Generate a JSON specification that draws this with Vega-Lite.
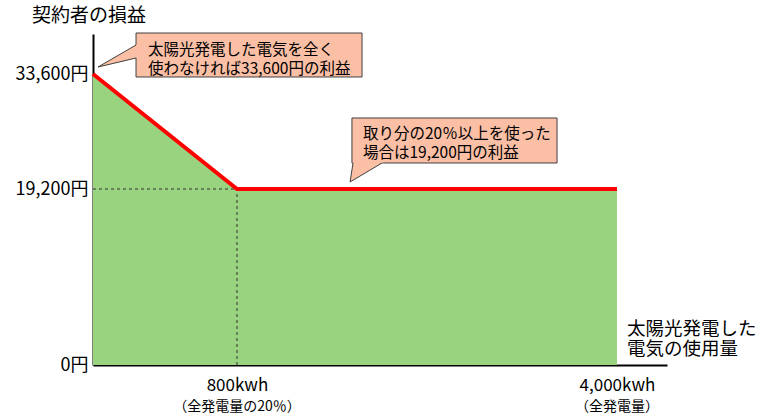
{
  "$schema": "https://vega.github.io/schema/vega-lite/v6.json",
  "width": 574,
  "height": 331,
  "autosize": "none",
  "padding": {"left": 93, "top": 34, "right": 100, "bottom": 52},
  "background": "white",
  "config": {"view": {"stroke": null}, "font": "Noto Sans CJK JP"},
  "title": {"text": "契約者の損益", "anchor": "start", "frame": "group", "dx": -61, "offset": 7, "fontSize": 19, "font": "Noto Sans CJK JP", "fontWeight": "normal", "color": "black"},
  "layer": [
    {
      "data": {"values": [{"kwh": 0, "yen": 33600}, {"kwh": 800, "yen": 19200}, {"kwh": 4000, "yen": 19200}]},
      "mark": {"type": "area", "color": "#9AD37F", "opacity": 1},
      "encoding": {
        "x": {"field": "kwh", "type": "quantitative", "title": null,
          "scale": {"domain": [0, 800, 4000, 5000], "range": [0, 144, 524, 574], "nice": false, "zero": false},
          "axis": {"values": [800, 4000], "labelExpr": "datum.value == 800 ? '800kwh' : '4,000kwh'", "grid": false, "ticks": false, "tickSize": 0, "domainColor": "black", "domainWidth": 2, "labelFontSize": 17, "labelColor": "black", "labelFont": "Noto Sans CJK JP", "labelPadding": 12, "labelFlush": false, "labelOverlap": false}},
        "y": {"field": "yen", "type": "quantitative", "title": null,
          "scale": {"domain": [0, 19200, 33600, 40000], "range": [331, 155, 40, 0], "nice": false, "zero": false},
          "axis": {"values": [0, 19200, 33600], "labelExpr": "datum.value == 0 ? '0円' : format(datum.value, ',') + '円'", "grid": false, "ticks": false, "tickSize": 0, "domainColor": "black", "domainWidth": 2, "labelFontSize": 18, "labelColor": "black", "labelFont": "Noto Sans CJK JP", "labelPadding": 5, "labelFlush": false, "labelOverlap": false}}
      }
    },
    {
      "data": {"values": [{"x1": 0, "x2": 800, "y1": 19200, "y2": 19200}, {"x1": 800, "x2": 800, "y1": 0, "y2": 19200}]},
      "mark": {"type": "rule", "color": "#333333", "strokeWidth": 1, "strokeDash": [3, 3]},
      "encoding": {
        "x": {"field": "x1", "type": "quantitative", "title": null},
        "x2": {"field": "x2"},
        "y": {"field": "y1", "type": "quantitative", "title": null},
        "y2": {"field": "y2"}
      }
    },
    {
      "data": {"values": [{"kwh": 0, "yen": 33600}, {"kwh": 800, "yen": 19200}, {"kwh": 4000, "yen": 19200}]},
      "mark": {"type": "line", "color": "#FF0000", "strokeWidth": 4},
      "encoding": {
        "x": {"field": "kwh", "type": "quantitative", "title": null},
        "y": {"field": "yen", "type": "quantitative", "title": null}
      }
    },
    {
      "data": {"values": [{"x1": 239, "x2": 1853, "y1": 40160, "y2": 33225}, {"x1": 1768, "x2": 3495, "y1": 28091, "y2": 22456}]},
      "mark": {"type": "rect", "fill": "#FABFA5", "stroke": "#404040", "strokeWidth": 1},
      "encoding": {
        "x": {"field": "x1", "type": "quantitative", "title": null},
        "x2": {"field": "x2"},
        "y": {"field": "y1", "type": "quantitative", "title": null},
        "y2": {"field": "y2"}
      }
    },
    {
      "data": {"values": [{"x": 28, "y": 34720, "y2": 34720}, {"x": 250, "y": 38426, "y2": 36235}]},
      "mark": {"type": "area", "fill": "#FABFA5", "opacity": 1},
      "encoding": {
        "x": {"field": "x", "type": "quantitative", "title": null},
        "y": {"field": "y", "type": "quantitative", "title": null},
        "y2": {"field": "y2"}
      }
    },
    {
      "data": {"values": [{"y": 20077, "x": 1752, "x2": 1752}, {"y": 22706, "x": 1779, "x2": 2050}]},
      "mark": {"type": "area", "orient": "horizontal", "fill": "#FABFA5", "opacity": 1},
      "encoding": {
        "y": {"field": "y", "type": "quantitative", "title": null},
        "x": {"field": "x", "type": "quantitative", "title": null},
        "x2": {"field": "x2"}
      }
    },
    {
      "data": {"values": [
        {"x1": 28, "y1": 34720, "x2": 239, "y2": 38240},
        {"x1": 28, "y1": 34720, "x2": 239, "y2": 36160},
        {"x1": 1752, "y1": 20077, "x2": 1777, "y2": 22456},
        {"x1": 1752, "y1": 20077, "x2": 2021, "y2": 22456}
      ]},
      "mark": {"type": "rule", "color": "#404040", "strokeWidth": 1},
      "encoding": {
        "x": {"field": "x1", "type": "quantitative", "title": null},
        "x2": {"field": "x2"},
        "y": {"field": "y1", "type": "quantitative", "title": null},
        "y2": {"field": "y2"}
      }
    },
    {
      "data": {"values": [
        {"x": 306, "y": 37520, "label": "太陽光発電した電気を全く"},
        {"x": 306, "y": 34480, "label": "使わなければ33,600円の利益"},
        {"x": 1861, "y": 26087, "label": "取り分の20％以上を使った"},
        {"x": 1861, "y": 23708, "label": "場合は19,200円の利益"}
      ]},
      "mark": {"type": "text", "align": "left", "baseline": "middle", "fontSize": 15.5, "color": "black", "font": "Noto Sans CJK JP"},
      "encoding": {
        "x": {"field": "x", "type": "quantitative", "title": null},
        "y": {"field": "y", "type": "quantitative", "title": null},
        "text": {"field": "label"}
      }
    },
    {
      "data": {"values": [{"x": 4200, "y": 3927, "label": "太陽光発電した"}, {"x": 4200, "y": 1745, "label": "電気の使用量"}]},
      "mark": {"type": "text", "align": "left", "baseline": "middle", "fontSize": 18.5, "color": "black", "font": "Noto Sans CJK JP"},
      "encoding": {
        "x": {"field": "x", "type": "quantitative", "title": null},
        "y": {"field": "y", "type": "quantitative", "title": null},
        "text": {"field": "label"}
      }
    },
    {
      "data": {"values": [{"x": 800, "y": 0, "label": "（全発電量の20％）"}, {"x": 4000, "y": 0, "label": "（全発電量）"}]},
      "mark": {"type": "text", "align": "center", "baseline": "middle", "fontSize": 14, "dy": 42, "color": "black", "font": "Noto Sans CJK JP"},
      "encoding": {
        "x": {"field": "x", "type": "quantitative", "title": null},
        "y": {"field": "y", "type": "quantitative", "title": null},
        "text": {"field": "label"}
      }
    }
  ]
}
